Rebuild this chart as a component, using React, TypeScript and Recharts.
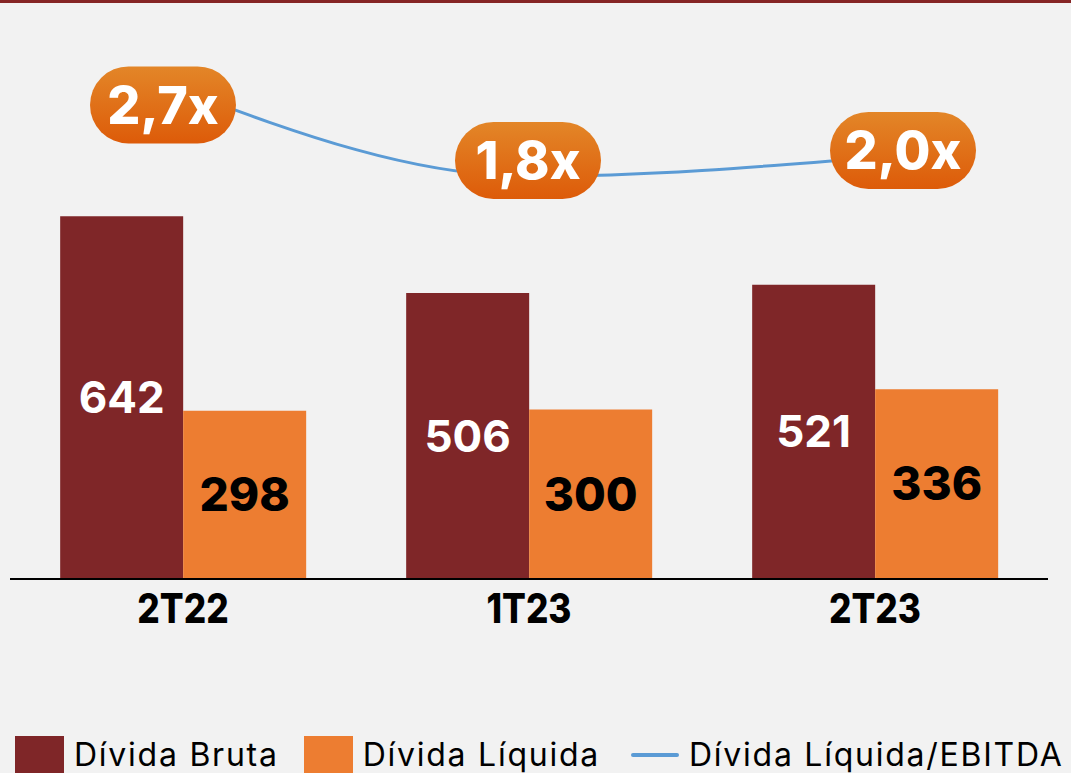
import React from 'react';
import {
  ComposedChart, Bar, Line, XAxis, YAxis, Legend, LabelList,
} from 'recharts';

// valores (R$ milhões)
const periods = ['2T22', '1T23', '2T23'];
const grossDebt = [642, 506, 521];
const netDebt = [298, 300, 336];
const leverage = [2.7, 1.8, 2.0];
const leverageLabels = ['2,7x', '1,8x', '2,0x'];

const data = periods.map((p, i) => ({
  period: p,
  bruta: grossDebt[i],
  liquida: netDebt[i],
  ratio: leverage[i],
}));

const FONT = 'Inter, "Noto Sans", sans-serif';
// deslocamento das "pílulas" em relação ao ponto da linha
const pillShift = [
  { dx: -20, dy: 14 },
  { dx: -1, dy: -16 },
  { dx: 28, dy: -7 },
];

function Pill(props: any) {
  const { x, y, index } = props;
  const s = pillShift[index] || { dx: 0, dy: 0 };
  const cx = x + s.dx;
  const cy = y + s.dy;
  const w = 146;
  const h = 77;
  return (
    <g>
      <rect x={cx - w / 2} y={cy - h / 2} width={w} height={h} rx={h / 2} fill="url(#pillGrad)" />
      <text
        x={cx}
        y={cy}
        dy={19}
        textAnchor="middle"
        fill="#fff"
        fontFamily={FONT}
        fontWeight={800}
        fontSize={52}
      >
        {leverageLabels[index]}
      </text>
    </g>
  );
}

function PeriodTick(props: any) {
  const { x, y, payload } = props;
  return (
    <g transform={`translate(${x},${y}) scale(0.86,1)`}>
      <text x={0} y={0} dy={36} textAnchor="middle" fill="#000" fontFamily={FONT} fontWeight={800} fontSize={41}>
        {payload.value}
      </text>
    </g>
  );
}

function LegendBox(props: any) {
  const { payload = [] } = props;
  return (
    <div style={{ height: 46, display: 'flex', alignItems: 'center', paddingLeft: 15, paddingTop: 9, boxSizing: 'border-box', overflow: 'visible', whiteSpace: 'nowrap' }}>
      {payload.map((item: any) => (
        <div key={item.value} style={{ display: 'flex', alignItems: 'center', flexShrink: 0, height: 37, marginRight: item.type === 'line' ? 0 : 25 }}>
          {item.type === 'line' ? (
            <div style={{ width: 48, height: 4, background: item.color, borderRadius: 2, marginLeft: 6 }} />
          ) : (
            <div style={{ width: 49, height: 37, background: item.color, alignSelf: 'flex-start' }} />
          )}
          <span style={{ marginLeft: 10, fontFamily: FONT, fontSize: 32, letterSpacing: 1.75, color: '#000', lineHeight: '34px', whiteSpace: 'nowrap' }}>{item.value}</span>
        </div>
      ))}
    </div>
  );
}

export default function App() {
  return (
    <div style={{ position: 'fixed', left: 0, top: 0, width: 1071, height: 773, background: '#f2f2f2', overflow: 'hidden' }}>
      <div style={{ position: 'absolute', left: 0, top: 0, width: 1071, height: 3, background: '#862626', zIndex: 2 }} />
      <ComposedChart
        width={1071}
        height={773}
        data={data}
        margin={{ top: 14, right: 23, left: 10, bottom: 0 }}
        barCategoryGap="14.5%"
        barGap={0}
      >
        <defs>
          <linearGradient id="pillGrad" x1="0" y1="0" x2="0" y2="1">
            <stop offset="0%" stopColor="#e38628" />
            <stop offset="100%" stopColor="#dd5b09" />
          </linearGradient>
        </defs>
        <XAxis
          dataKey="period"
          height={148}
          tickLine={false}
          axisLine={{ stroke: '#000', strokeWidth: 2 }}
          tick={<PeriodTick />}
          interval={0}
        />
        <YAxis yAxisId="left" hide domain={[0, 1000]} />
        <YAxis yAxisId="right" hide orientation="right" domain={[-2.44, 3.51]} />
        <Legend verticalAlign="bottom" content={<LegendBox />} wrapperStyle={{ left: 0, width: 1071 }} />
        <Bar yAxisId="left" dataKey="bruta" name="Dívida Bruta" fill="#7f2628" isAnimationActive={false}>
          <LabelList dataKey="bruta" position="center" fill="#fff" fontFamily={FONT} fontWeight={700} fontSize={44} />
        </Bar>
        <Bar yAxisId="left" dataKey="liquida" name="Dívida Líquida" fill="#ed7d31" isAnimationActive={false}>
          <LabelList dataKey="liquida" position="center" fill="#000" fontFamily={FONT} fontWeight={800} fontSize={46} />
        </Bar>
        <Line
          yAxisId="right"
          type="monotone"
          dataKey="ratio"
          name="Dívida Líquida/EBITDA"
          stroke="#5b9bd5"
          strokeWidth={3}
          dot={false}
          activeDot={false}
          legendType="line"
          isAnimationActive={false}
        >
          <LabelList dataKey="ratio" content={<Pill />} />
        </Line>
      </ComposedChart>
    </div>
  );
}
